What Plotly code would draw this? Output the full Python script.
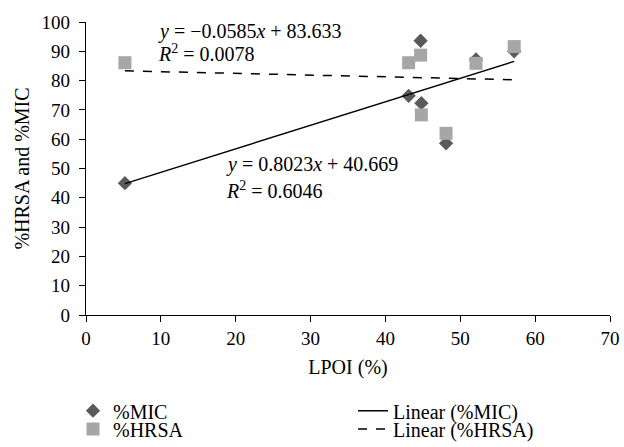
import numpy as np
import plotly.graph_objects as go

# Data
lpoi = [5.2, 43.1, 44.7, 44.8, 48.1, 52.1, 57.2]
mic = [45.0, 74.8, 93.6, 72.3, 58.6, 87.2, 90.0]
hrsa = [86.1, 86.1, 88.7, 68.3, 62.0, 85.9, 91.6]

# Trendline coefficients shown on the chart
mic_slope, mic_intercept, mic_r2 = 0.8023, 40.669, 0.6046
hrsa_slope, hrsa_intercept, hrsa_r2 = -0.0585, 83.633, 0.0078

x_tick_vals = [0, 10, 20, 30, 40, 50, 60, 70]
y_tick_vals = [0, 10, 20, 30, 40, 50, 60, 70, 80, 90, 100]

FONT = "Liberation Serif"
FS_TICK = 19
FS_TEXT = 20

xl = np.array([min(lpoi), max(lpoi)])

fig = go.Figure()
fig.add_trace(go.Scatter(
    x=lpoi, y=mic, mode="markers", name="%MIC",
    marker=dict(symbol="diamond", size=11, color="#5a5a5a"),
    legend="legend"))
fig.add_trace(go.Scatter(
    x=lpoi, y=hrsa, mode="markers", name="%HRSA",
    marker=dict(symbol="square", size=13, color="#a6a6a6"),
    legend="legend2"))
fig.add_trace(go.Scatter(
    x=xl, y=mic_slope * xl + mic_intercept, mode="lines", name="Linear (%MIC)",
    line=dict(color="black", width=1.5), legend="legend3"))
fig.add_trace(go.Scatter(
    x=xl, y=hrsa_slope * xl + hrsa_intercept, mode="lines", name="Linear (%HRSA)",
    line=dict(color="black", width=1.5, dash="dash"), legend="legend4"))

def eq_text(slope, intercept):
    sign = "\u2212" if slope < 0 else ""
    return f"<i>y</i> = {sign}{abs(slope):.4f}<i>x</i> + {intercept:.3f}"

ann_font = dict(family=FONT, size=FS_TEXT, color="black")
fig.add_annotation(x=9.4, y=96.7, xref="x", yref="y", xanchor="left", yanchor="middle",
                   text=eq_text(hrsa_slope, hrsa_intercept), showarrow=False, font=ann_font)
fig.add_annotation(x=9.4, y=89.4, xref="x", yref="y", xanchor="left", yanchor="middle",
                   text=f"<i>R</i><sup>2</sup> = {hrsa_r2:.4f}", showarrow=False, font=ann_font)
fig.add_annotation(x=18.4, y=51.2, xref="x", yref="y", xanchor="left", yanchor="middle",
                   text=eq_text(mic_slope, mic_intercept), showarrow=False, font=ann_font)
fig.add_annotation(x=18.4, y=42.7, xref="x", yref="y", xanchor="left", yanchor="middle",
                   text=f"<i>R</i><sup>2</sup> = {mic_r2:.4f}", showarrow=False, font=ann_font)

axis_common = dict(showline=True, linecolor="black", linewidth=1.2, showgrid=False,
                   zeroline=False, ticks="outside", ticklen=6, tickcolor="black",
                   tickfont=dict(family=FONT, size=FS_TICK, color="black"), automargin=False,
                   ticklabeloverflow="allow")

fig.update_xaxes(range=[0, 70], tickvals=x_tick_vals, ticklabelstandoff=0,
                 title=dict(text="LPOI (%)", font=dict(family=FONT, size=FS_TEXT, color="black"), standoff=12),
                 **axis_common)
fig.update_yaxes(range=[0, 100], tickvals=y_tick_vals, ticklabelstandoff=5,
                 title=dict(text="%HRSA and %MIC", font=dict(family=FONT, size=FS_TEXT, color="black"), standoff=6),
                 **axis_common)

def leg(px_x, px_y):
    # pixel position of legend box -> paper coords (plot area: x 86..610, y 22..315)
    return dict(x=(px_x - 86) / 524, y=(315 - px_y) / 293, xanchor="left", yanchor="middle",
                orientation="v", font=dict(family=FONT, size=FS_TEXT, color="black"),
                itemwidth=30, bgcolor="rgba(0,0,0,0)", borderwidth=0)

fig.update_layout(
    width=624, height=447,
    margin=dict(l=86, r=14, t=22, b=132, autoexpand=False),
    paper_bgcolor="white", plot_bgcolor="white",
    font=dict(family=FONT, size=FS_TICK, color="black"),
    showlegend=True,
    legend=leg(73, 410.7),
    legend2=leg(73, 429),
    legend3=leg(353, 410.7),
    legend4=leg(353, 429),
)

# remove the default page margin so the 624x447 figure fills the window exactly
fig.write_html("out.html",
               config={"displayModeBar": False},
               post_script="document.body.style.margin='0px';document.body.style.overflow='hidden';")
